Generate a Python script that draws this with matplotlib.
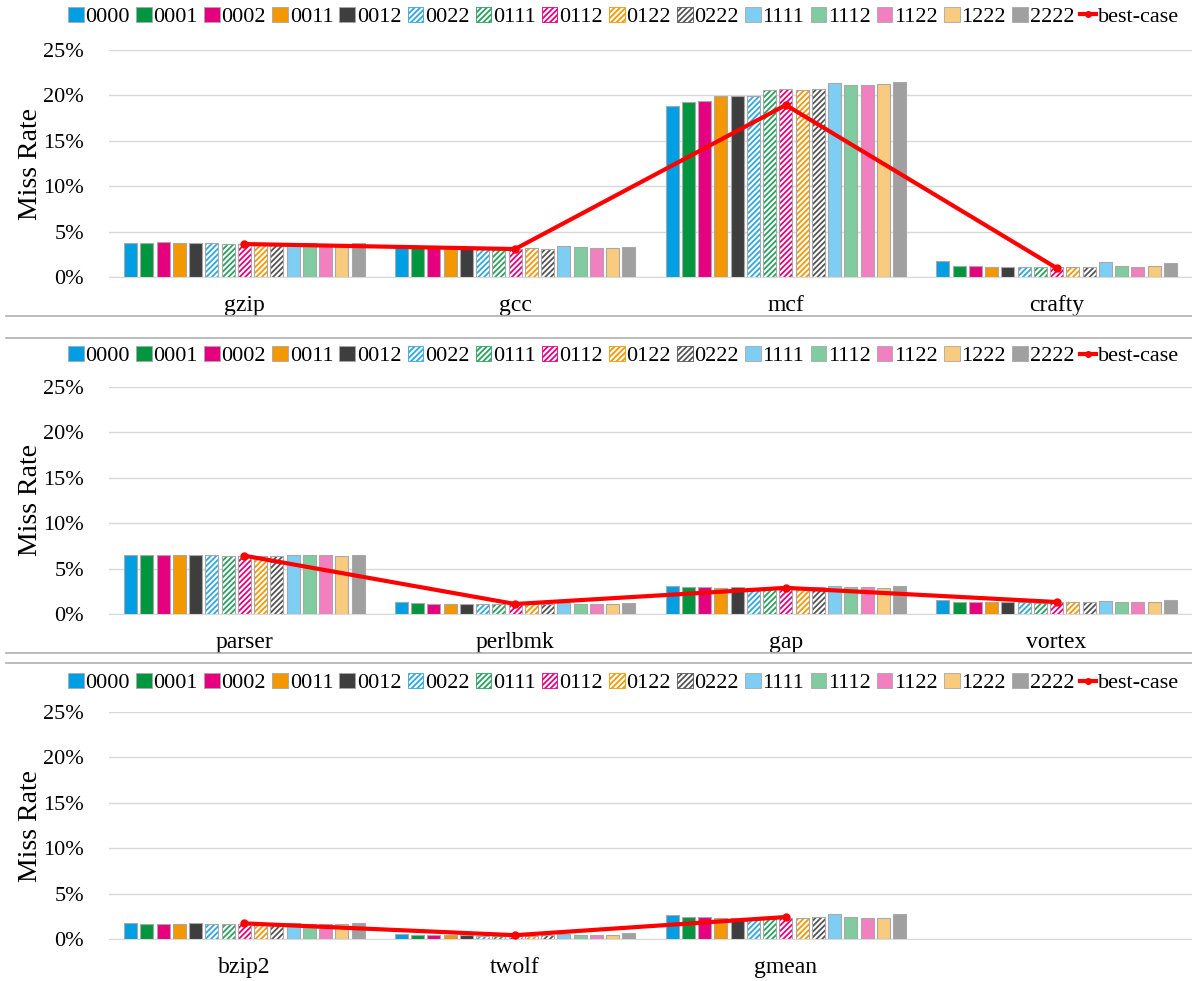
import matplotlib.pyplot as plt
from matplotlib.patches import Patch
from matplotlib.lines import Line2D
import numpy as np

plt.rcParams['font.family'] = ['Liberation Serif', 'DejaVu Serif']
plt.rcParams['hatch.linewidth'] = 1.3

configs = ['0000', '0001', '0002', '0011', '0012', '0022', '0111', '0112',
           '0122', '0222', '1111', '1112', '1122', '1222', '2222']
colors = ['#009FE3', '#009640', '#E4007F', '#F39800', '#3E3E3E',
          '#2EA7E0', '#27A060', '#E4007F', '#F39800', '#555555',
          '#7ECEF4', '#80CBA0', '#F080C0', '#F8CB7E', '#A0A0A0']
hatched = [False] * 5 + [True] * 5 + [False] * 5

# miss rates (%) per benchmark, one value per config
gzip = [3.75, 3.75, 3.82, 3.78, 3.75, 3.72, 3.65, 3.68, 3.58, 3.53, 3.6, 3.72, 3.68, 3.6, 3.78]
gcc = [3.3, 3.25, 3.2, 3.18, 3.15, 3.1, 3.1, 3.08, 3.16, 3.12, 3.38, 3.27, 3.16, 3.16, 3.34]
mcf = [18.87, 19.31, 19.34, 19.93, 19.9, 19.93, 20.6, 20.67, 20.56, 20.7, 21.37, 21.2, 21.15, 21.26, 21.44]
crafty = [1.76, 1.25, 1.25, 1.14, 1.14, 1.14, 1.14, 1.07, 1.07, 1.14, 1.62, 1.21, 1.1, 1.17, 1.54]
parser = [6.46, 6.46, 6.46, 6.46, 6.5, 6.46, 6.42, 6.42, 6.39, 6.39, 6.5, 6.46, 6.46, 6.39, 6.5]
perlbmk = [1.32, 1.17, 1.1, 1.1, 1.1, 1.1, 1.1, 1.1, 1.1, 1.1, 1.17, 1.1, 1.1, 1.1, 1.25]
gap = [3.08, 2.94, 2.94, 2.87, 2.94, 2.87, 2.87, 2.9, 2.8, 2.94, 3.12, 2.94, 2.94, 2.87, 3.08]
vortex = [1.54, 1.32, 1.32, 1.32, 1.32, 1.28, 1.25, 1.28, 1.28, 1.32, 1.47, 1.36, 1.28, 1.28, 1.54]
bzip2 = [1.72, 1.65, 1.65, 1.65, 1.72, 1.65, 1.65, 1.65, 1.65, 1.5, 1.72, 1.65, 1.65, 1.61, 1.72]
twolf = [0.59, 0.4, 0.4, 0.4, 0.4, 0.35, 0.33, 0.33, 0.33, 0.4, 0.55, 0.4, 0.4, 0.44, 0.66]
gmean = [2.68, 2.39, 2.39, 2.31, 2.31, 2.31, 2.31, 2.35, 2.31, 2.39, 2.72, 2.39, 2.31, 2.31, 2.72]

best_case = {'gzip': 3.63, 'gcc': 3.08, 'mcf': 18.94, 'crafty': 0.99,
             'parser': 6.42, 'perlbmk': 1.1, 'gap': 2.88, 'vortex': 1.32,
             'bzip2': 1.72, 'twolf': 0.42, 'gmean': 2.42}

panels = [
    (['gzip', 'gcc', 'mcf', 'crafty'], [gzip, gcc, mcf, crafty]),
    (['parser', 'perlbmk', 'gap', 'vortex'], [parser, perlbmk, gap, vortex]),
    (['bzip2', 'twolf', 'gmean'], [bzip2, twolf, gmean]),
]

fig = plt.figure(figsize=(11.92, 9.81), dpi=100)
W, H = 1192, 981
ax_left, ax_right = 109, 1192
ax_tops = [50, 387, 712]
ax_h = 227
legend_y = [17, 356, 683]

n = len(configs)
group_w = 0.9
pitch = group_w / n
bar_w = pitch * 0.8

for p, (names, rows) in enumerate(panels):
    top = ax_tops[p]
    ax = fig.add_axes([ax_left / W, 1 - (top + ax_h) / H,
                       (ax_right - ax_left) / W, ax_h / H])
    data = np.array(rows)
    xs = np.arange(len(names))
    for j in range(n):
        pos = xs - group_w / 2 + pitch * (j + 0.5)
        vals = data[:, j]
        if hatched[j]:
            ax.bar(pos, vals, bar_w, color='white', edgecolor=colors[j],
                   hatch='//////', linewidth=0, zorder=2)
            ax.bar(pos, vals, bar_w, fill=False, edgecolor='#A8A8A8',
                   linewidth=0.8, zorder=3)
        else:
            ax.bar(pos, vals, bar_w, color=colors[j], edgecolor='#A8A8A8',
                   linewidth=0.8, zorder=3)
    # best-case line sits over the 0112 bar of each group
    bx = xs - group_w / 2 + pitch * 7.5
    ax.plot(bx, [best_case[nm] for nm in names], color='#FF0000', lw=3,
            marker='o', ms=5, zorder=5)

    ax.set_xlim(-0.5, 3.5)
    ax.set_ylim(0, 25)
    ax.set_yticks(range(0, 26, 5))
    ax.set_yticklabels([f'{v}%' for v in range(0, 26, 5)], fontsize=16)
    ax.set_xticks(xs)
    ax.set_xticklabels(names, fontsize=17)
    ax.tick_params(length=0)
    ax.tick_params(axis='x', pad=13)
    ax.tick_params(axis='y', pad=18)
    ax.grid(axis='y', color='#D9D9D9', lw=1, zorder=0)
    for s in ['top', 'right', 'left']:
        ax.spines[s].set_visible(False)
    ax.spines['bottom'].set_color('#D9D9D9')
    ax.set_axisbelow(True)
    ax.set_ylabel('Miss Rate', fontsize=20, labelpad=0)

    handles = []
    for j in range(n):
        if hatched[j]:
            handles.append(Patch(facecolor='white', edgecolor=colors[j],
                                 hatch='//////', linewidth=0.6, label=configs[j]))
        else:
            handles.append(Patch(facecolor=colors[j], edgecolor='#A8A8A8',
                                 linewidth=0.6, label=configs[j]))
    handles.append(Line2D([], [], color='#FF0000', lw=3, marker='o', ms=4,
                          label='best-case'))
    fig.legend(handles=handles, loc='center', ncol=16, frameon=False,
               bbox_to_anchor=(0.523, 1 - legend_y[p] / H), fontsize=16,
               handlelength=0.7, handleheight=0.7, handletextpad=0.08,
               columnspacing=0.28, borderaxespad=0)

# frame lines between the three charts
for y in [316, 338, 653, 663]:
    fig.add_artist(Line2D([0.005, 1], [1 - y / H, 1 - y / H],
                          color='#B0B0B0', lw=1.2, transform=fig.transFigure))

fig.savefig('out.png', dpi=100)
